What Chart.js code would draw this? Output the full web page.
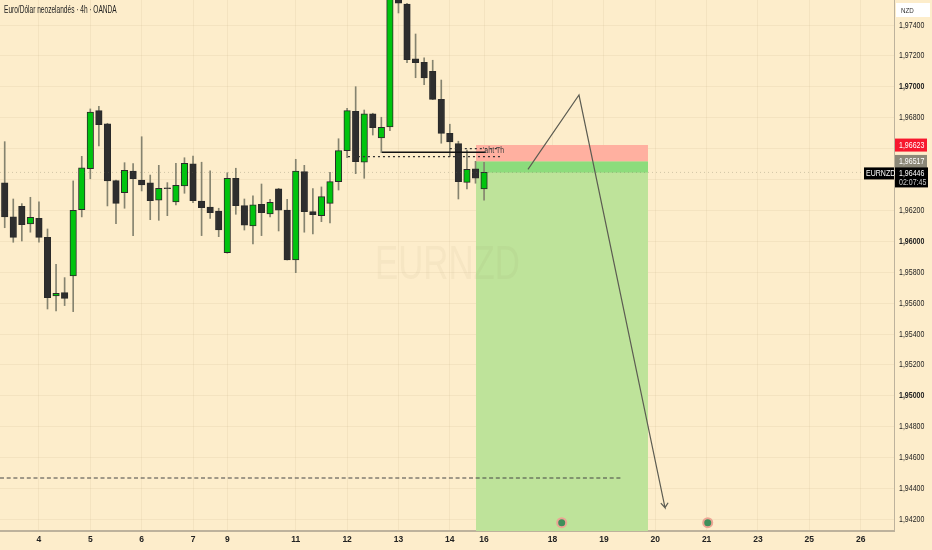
<!DOCTYPE html>
<html>
<head>
<meta charset="utf-8">
<style>
html, body { margin: 0; padding: 0; background: #fdedcb; }
#box { position: relative; width: 932px; height: 550px; }
canvas { display: block; }
</style>
<script src="https://cdn.jsdelivr.net/npm/chart.js@4"></script>
</head>
<body>
<div id="box"><canvas id="chart" width="932" height="550"></canvas></div>
<script>
// candles, one row per field, index = 4h bar number
const opens = [1.96378,1.96158,1.96227,1.96112,1.96149,1.96026,1.95646,1.95668,1.95776,1.96205,1.96470,1.96846,1.96761,1.96393,1.96315,1.96455,1.96397,1.96378,1.96266,1.96347,1.96255,1.96358,1.96501,1.96261,1.96222,1.96195,1.95927,1.96408,1.96231,1.96099,1.96240,1.96177,1.96339,1.96203,1.95879,1.96451,1.96192,1.96166,1.96246,1.96386,1.96587,1.96842,1.96512,1.96826,1.96669,1.96740,1.97575,1.97536,1.97182,1.97159,1.97101,1.96919,1.96699,1.96632,1.96382,1.96470,1.96339]
const highs = [1.96645,1.96274,1.96244,1.96285,1.96255,1.96080,1.95851,1.95765,1.96391,1.96550,1.96857,1.96874,1.96764,1.96397,1.96509,1.96503,1.96677,1.96429,1.96492,1.96380,1.96505,1.96541,1.96552,1.96512,1.96457,1.96214,1.96444,1.96473,1.96274,1.96294,1.96371,1.96272,1.96343,1.96272,1.96531,1.96492,1.96341,1.96352,1.96447,1.96664,1.96861,1.97001,1.96850,1.96829,1.96803,1.97627,1.97594,1.97541,1.97342,1.97187,1.97172,1.97044,1.96758,1.96648,1.96591,1.96518,1.96512]
const lows = [1.96088,1.95994,1.96002,1.96059,1.95994,1.95562,1.95549,1.95584,1.95545,1.96158,1.96405,1.96617,1.96229,1.96114,1.96214,1.96037,1.96326,1.96140,1.96136,1.96166,1.96235,1.96311,1.96250,1.96037,1.96149,1.96030,1.95923,1.96175,1.96073,1.95983,1.96037,1.96158,1.96067,1.95879,1.95797,1.96059,1.96048,1.96127,1.96119,1.96332,1.96541,1.96438,1.96408,1.96688,1.96574,1.96716,1.97478,1.97156,1.97059,1.97014,1.96917,1.96635,1.96548,1.96274,1.96339,1.96376,1.96266]
const closes = [1.96158,1.96026,1.96108,1.96156,1.96026,1.95635,1.95664,1.95631,1.96201,1.96475,1.96837,1.96755,1.96391,1.96246,1.96460,1.96405,1.96365,1.96263,1.96343,1.96341,1.96363,1.96505,1.96263,1.96218,1.96185,1.96073,1.96408,1.96231,1.96104,1.96237,1.96185,1.96253,1.96201,1.95879,1.96455,1.96192,1.96172,1.96289,1.96386,1.96587,1.96846,1.96515,1.96826,1.96736,1.96738,1.97601,1.97541,1.97176,1.97156,1.97057,1.96919,1.96699,1.96643,1.96386,1.96466,1.96408,1.96446]

const dayTicks = [4,10,16,22,26,34,40,46,52,56,64,70,76,82,88,94,100]
const dayLabels = ["4","5","6","7","9","11","12","13","14","16","18","19","20","21","23","25","26"]
const priceTicks = [1.942,1.944,1.946,1.948,1.950,1.952,1.954,1.956,1.958,1.960,1.962,1.964,1.966,1.968,1.970,1.972,1.974]
const hiddenPrices = [1.964,1.966]
const boldPrices = [1.950,1.960,1.970]

const xMin = -0.55, xMax = 103.89
const yMin = 1.94125, yMax = 1.97562

const zoneX = [55.06,75.15]
const stopZone = [1.96623,1.96517]
const targetZone = [1.96517,1.94125]
const runningZone = [1.96517,1.96446]

const pathX = [61.13,67.09,77.14,76.65,77.14,77.5]
const pathY = [1.96466,1.96947,1.94276,1.94305,1.94276,1.94308]

const targetLineX = [-0.55,72.1]
const targetLineY = 1.94468
const fvgLineX = [44.07,56.2]
const fvgLineY = 1.96576
const dotTopX = [52,57.9]
const dotTopY = 1.96600
const dotBottomX = [40.1,57.9]
const dotBottomY = 1.96548
const lastPrice = 1.96446

const eventX = [65.07,82.13]
const eventY = [1.94179,1.94179]

const GREEN = "#00c40e", DARK = "#2e2e2e", WICK = "#85836f"
const FONT = '"Liberation Sans", sans-serif'
const NARROW = 0.78

function hline(xs, y, color, width, dash){
    return {
        type: "line",
        data: [{x: xs[0], y: y}, {x: xs[1], y: y}],
        borderColor: color,
        borderWidth: width,
        borderDash: dash || [],
        pointRadius: 0,
        order: 2
    }
}

function zone(xs, ys, color, order){
    return {
        type: "line",
        data: [{x: xs[0], y: ys[0]}, {x: xs[1], y: ys[0]}],
        borderWidth: 0,
        pointRadius: 0,
        backgroundColor: color,
        fill: {value: ys[1]},
        order: order
    }
}

const comma = v => v.toFixed(5).replace(".", ",")

// squeezed text, the reference type is narrower than the installed fonts
function narrowText(c, text, x, y, k){
    c.save()
    c.translate(x, y)
    c.scale(k || NARROW, 1)
    c.fillText(text, 0, 0)
    c.restore()
}

function noPadding(s){
    s.paddingLeft = 0
    s.paddingRight = 0
    s.paddingTop = 0
    s.paddingBottom = 0
}

// axis tags, title, watermark
const overlay = {
    id: "overlay",
    beforeDraw(chart){
        const s = chart.scales.y
        if(s.narrowed) return
        s.narrowed = true
        const drawLabels = s.drawLabels
        s.drawLabels = function(area){
            const c = chart.ctx
            c.save()
            c.translate(899, 0)
            c.scale(NARROW, 1)
            c.translate(-899, 0)
            drawLabels.call(s, area)
            c.restore()
        }
    },
    afterDatasetsDraw(chart){
        const c = chart.ctx
        c.save()
        c.fillStyle = "rgba(120,110,80,0.055)"
        c.font = "49px " + FONT
        c.textAlign = "left"
        c.textBaseline = "middle"
        narrowText(c, "EURNZD", 375, 265, 0.71)
        c.restore()
    },
    afterDraw(chart){
        const c = chart.ctx
        const y = chart.scales.y
        c.save()
        c.textBaseline = "middle"
        c.textAlign = "left"
        c.font = "10.5px " + FONT
        c.fillStyle = "#222"
        narrowText(c, "Euro/Dólar neozelandés · 4h · OANDA", 4, 10, 0.625)

        c.fillStyle = "#fff"
        c.fillRect(896, 3, 34, 14)
        c.fillStyle = "#333"
        c.font = "8px " + FONT
        narrowText(c, "NZD", 901, 10.5)

        c.font = "9px " + FONT
        const tag = (value, bg, fg) => {
            const py = y.getPixelForValue(value)
            c.fillStyle = bg
            c.fillRect(895, py - 6.5, 32, 13)
            c.fillStyle = fg
            narrowText(c, comma(value), 899, py + 0.5)
        }
        tag(stopZone[0], "#f7172d", "#fff")
        tag(stopZone[1], "#8c8878", "#fff")

        const py = y.getPixelForValue(lastPrice)
        c.fillStyle = "#000"
        c.fillRect(895, py - 5, 33, 20)
        c.fillRect(864, py - 5, 30, 12)
        c.fillStyle = "#fff"
        narrowText(c, comma(lastPrice), 899, py + 1)
        narrowText(c, "EURNZD", 866, py + 1)
        c.fillStyle = "#c8c8c8"
        narrowText(c, "02:07:45", 899, py + 10.5)

        c.fillStyle = "#444"
        c.font = "9px " + FONT
        narrowText(c, "'aht Th", 483, 151)
        c.restore()
    }
}

new Chart(document.getElementById("chart"), {
    type: "bar",
    data: {
        datasets: [
            zone(zoneX, stopZone, "#ffb0a0", 10),
            zone(zoneX, targetZone, "#bee39a", 10),
            zone(zoneX, runningZone, "#8cdc7c", 9),
            hline([xMin, xMax], lastPrice, "rgba(110,105,85,0.3)", 1, [1,3]),
            hline(targetLineX, targetLineY, "#444", 1, [4,2.7]),
            hline(fvgLineX, fvgLineY, "#111", 1.5),
            hline(dotTopX, dotTopY, "#333", 1.3, [2,3]),
            hline(dotBottomX, dotBottomY, "#333", 1.3, [2,3]),
            {
                type: "bar",
                data: highs.map((h, i) => ({x: i, y: [lows[i], h]})),
                backgroundColor: WICK,
                barThickness: 1,
                grouped: false,
                order: 5
            },
            {
                type: "bar",
                data: opens.map((o, i) => ({x: i, y: [o, closes[i]]})),
                backgroundColor: closes.map((v, i) => v >= opens[i] ? GREEN : DARK),
                borderColor: "#2a2a2a",
                borderWidth: 1,
                borderSkipped: false,
                barThickness: 6.5,
                grouped: false,
                order: 4
            },
            {
                type: "line",
                data: pathX.map((x, i) => ({x: x, y: pathY[i]})),
                borderColor: "#5c5c52",
                borderWidth: 1.2,
                pointRadius: 0,
                order: 1
            },
            {
                type: "scatter",
                data: eventX.map((x, i) => ({x: x, y: eventY[i]})),
                pointRadius: 4.5,
                pointBackgroundColor: "#3f8f5a",
                pointBorderColor: "#eca594",
                pointBorderWidth: 2,
                order: 0
            }
        ]
    },
    options: {
        responsive: false,
        animation: false,
        devicePixelRatio: 1,
        layout: {padding: 0, autoPadding: false},
        plugins: {legend: {display: false}, tooltip: {enabled: false}},
        scales: {
            x: {
                type: "linear",
                offset: false,
                min: xMin,
                max: xMax,
                afterBuildTicks: s => { s.ticks = dayTicks.map(v => ({value: v})) },
                afterFit: s => { s.height = 19; noPadding(s) },
                grid: {color: "rgba(150,130,90,0.09)", drawTicks: false, offset: false},
                border: {color: "#bdb29c", width: 2},
                ticks: {
                    autoSkip: false,
                    maxRotation: 0,
                    padding: 4,
                    color: "#222",
                    font: {family: FONT, size: 8.5, weight: "bold"},
                    callback: v => dayLabels[dayTicks.indexOf(v)]
                }
            },
            y: {
                position: "right",
                min: yMin,
                max: yMax,
                afterBuildTicks: s => { s.ticks = priceTicks.map(v => ({value: v})) },
                afterFit: s => { s.width = 38; noPadding(s) },
                grid: {color: "rgba(150,130,90,0.09)", drawTicks: false},
                border: {color: "#bdb29c", width: 1},
                ticks: {
                    autoSkip: false,
                    padding: 5,
                    color: "#222",
                    font: ctx => ({
                        family: FONT,
                        size: 9,
                        weight: ctx.tick && boldPrices.includes(ctx.tick.value) ? "bold" : "normal"
                    }),
                    callback: v => hiddenPrices.includes(v) ? "" : comma(v)
                }
            }
        }
    },
    plugins: [overlay]
})
</script>
</body>
</html>
